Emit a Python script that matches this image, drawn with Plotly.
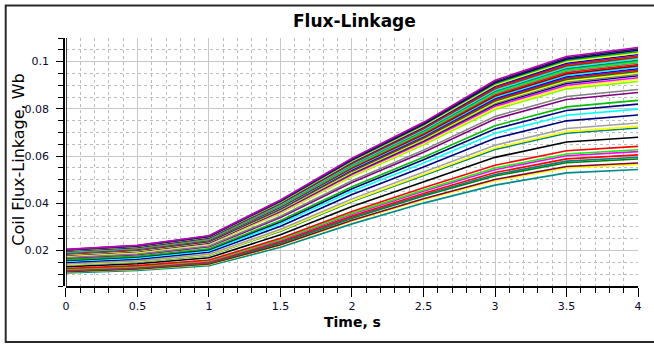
import plotly.graph_objects as go

time_s = [0, 0.5, 1, 1.5, 2, 2.5, 3, 3.5, 4]

s01 = [0.02050, 0.02220, 0.02630, 0.04140, 0.05910, 0.07430, 0.09210, 0.10220, 0.1060]
s02 = [0.02038, 0.02208, 0.02615, 0.04117, 0.05878, 0.07390, 0.09159, 0.10163, 0.1054]
s03 = [0.02027, 0.02195, 0.02600, 0.04094, 0.05845, 0.07350, 0.09107, 0.10106, 0.1048]
s04 = [0.02015, 0.02183, 0.02586, 0.04070, 0.05813, 0.07311, 0.09056, 0.10048, 0.1042]
s05 = [0.02004, 0.02171, 0.02571, 0.04047, 0.05781, 0.07271, 0.09004, 0.09991, 0.1036]
s06 = [0.01992, 0.02158, 0.02556, 0.04024, 0.05749, 0.07231, 0.08953, 0.09934, 0.1030]
s07 = [0.01980, 0.02146, 0.02542, 0.04001, 0.05716, 0.07192, 0.08901, 0.09877, 0.1024]
s08 = [0.01969, 0.02134, 0.02527, 0.03978, 0.05684, 0.07152, 0.08850, 0.09820, 0.1018]
s09 = [0.01957, 0.02122, 0.02512, 0.03954, 0.05652, 0.07112, 0.08798, 0.09762, 0.1012]
s10 = [0.01946, 0.02109, 0.02497, 0.03931, 0.05620, 0.07072, 0.08747, 0.09705, 0.1006]
s11 = [0.01934, 0.02097, 0.02483, 0.03908, 0.05587, 0.07033, 0.08695, 0.09648, 0.1000]
s12 = [0.01922, 0.02085, 0.02468, 0.03885, 0.05555, 0.06993, 0.08644, 0.09590, 0.0994]
s13 = [0.01911, 0.02072, 0.02453, 0.03861, 0.05523, 0.06953, 0.08592, 0.09533, 0.0988]
s14 = [0.01899, 0.02060, 0.02438, 0.03838, 0.05491, 0.06914, 0.08541, 0.09476, 0.0982]
s15 = [0.01888, 0.02048, 0.02424, 0.03815, 0.05458, 0.06874, 0.08489, 0.09419, 0.0976]
s16 = [0.01876, 0.02035, 0.02409, 0.03792, 0.05426, 0.06834, 0.08438, 0.09362, 0.0970]
s17 = [0.01864, 0.02023, 0.02394, 0.03769, 0.05394, 0.06795, 0.08386, 0.09304, 0.0964]
s18 = [0.01853, 0.02011, 0.02379, 0.03745, 0.05362, 0.06755, 0.08335, 0.09247, 0.0958]
s19 = [0.01841, 0.01999, 0.02365, 0.03722, 0.05329, 0.06715, 0.08283, 0.09190, 0.0952]
s20 = [0.01830, 0.01986, 0.02350, 0.03699, 0.05297, 0.06676, 0.08232, 0.09133, 0.0946]
s21 = [0.01818, 0.01974, 0.02335, 0.03676, 0.05265, 0.06636, 0.08180, 0.09076, 0.0940]
s22 = [0.01802, 0.01958, 0.02316, 0.03645, 0.05222, 0.06583, 0.08111, 0.08999, 0.0932]
s23 = [0.01787, 0.01941, 0.02296, 0.03614, 0.05179, 0.06530, 0.08042, 0.08923, 0.0924]
s24 = [0.01772, 0.01925, 0.02276, 0.03583, 0.05136, 0.06478, 0.07973, 0.08847, 0.0916]
s25 = [0.01706, 0.01855, 0.02193, 0.03451, 0.04953, 0.06253, 0.07681, 0.08523, 0.0882]
s26 = [0.01681, 0.01828, 0.02161, 0.03401, 0.04883, 0.06167, 0.07570, 0.08399, 0.0869]
s27 = [0.01617, 0.01761, 0.02080, 0.03273, 0.04705, 0.05948, 0.07286, 0.08084, 0.0836]
s28 = [0.01586, 0.01728, 0.02040, 0.03212, 0.04620, 0.05842, 0.07149, 0.07932, 0.0820]
s29 = [0.01545, 0.01685, 0.01989, 0.03130, 0.04507, 0.05704, 0.06969, 0.07731, 0.0799]
s30 = [0.01497, 0.01634, 0.01927, 0.03034, 0.04372, 0.05538, 0.06754, 0.07493, 0.0774]
s31 = [0.01431, 0.01564, 0.01844, 0.02902, 0.04189, 0.05313, 0.06462, 0.07168, 0.0740]
s32 = [0.01404, 0.01535, 0.01810, 0.02848, 0.04114, 0.05221, 0.06342, 0.07035, 0.0726]
s33 = [0.01390, 0.01521, 0.01792, 0.02821, 0.04076, 0.05174, 0.06281, 0.06968, 0.0719]
s34 = [0.01315, 0.01441, 0.01697, 0.02670, 0.03867, 0.04916, 0.05947, 0.06597, 0.0680]
s35 = [0.01240, 0.01361, 0.01601, 0.02519, 0.03657, 0.04658, 0.05612, 0.06225, 0.0641]
s36 = [0.01213, 0.01332, 0.01566, 0.02465, 0.03582, 0.04566, 0.05492, 0.06091, 0.0627]
s37 = [0.01197, 0.01316, 0.01547, 0.02434, 0.03539, 0.04513, 0.05423, 0.06015, 0.0619]
s38 = [0.01170, 0.01287, 0.01512, 0.02380, 0.03463, 0.04420, 0.05302, 0.05881, 0.0605]
s39 = [0.01151, 0.01267, 0.01488, 0.02341, 0.03410, 0.04354, 0.05217, 0.05786, 0.0595]
s40 = [0.01137, 0.01252, 0.01470, 0.02314, 0.03372, 0.04308, 0.05156, 0.05719, 0.0588]
s41 = [0.01104, 0.01218, 0.01429, 0.02248, 0.03281, 0.04195, 0.05011, 0.05557, 0.0571]
s42 = [0.01093, 0.01205, 0.01414, 0.02225, 0.03248, 0.04156, 0.04959, 0.05500, 0.0565]
s43 = [0.01050, 0.01160, 0.01360, 0.02140, 0.03130, 0.04010, 0.04770, 0.05290, 0.0543]

series = [s01, s02, s03, s04, s05, s06, s07, s08, s09, s10, s11, s12, s13, s14, s15,
          s16, s17, s18, s19, s20, s21, s22, s23, s24, s25, s26, s27, s28, s29, s30,
          s31, s32, s33, s34, s35, s36, s37, s38, s39, s40, s41, s42, s43]

colors = ['#c000c0', '#202040', '#000080', '#00c000', '#ffff00', '#0000ff', '#ff0000',
          '#804000', '#00ffff', '#008080', '#00ff00', '#808080', '#ff0000', '#800000',
          '#00ffff', '#0000ff', '#ff0000', '#008000', '#ffff00', '#808080', '#000080',
          '#ff00ff', '#ffff00', '#80ff00', '#808080', '#800080', '#00c000', '#000080',
          '#00ffff', '#000080', '#a0a0a0', '#ffff00', '#008080', '#000000', '#ff0000',
          '#00ff00', '#ff00ff', '#ff0000', '#008080', '#008000', '#800040', '#ffff00',
          '#008b8b']

fig = go.Figure()
for ys, c in zip(reversed(series), reversed(colors)):
    fig.add_trace(go.Scatter(x=time_s, y=ys, mode='lines',
                             line=dict(color=c, width=1.6), showlegend=False,
                             hoverinfo='skip'))

W, H = 654, 344
ml, mr, mt, mb = 64, 14, 38, 58
pw = W - ml - mr
ph = H - mt - mb

def px_x(p):
    return (p - ml) / pw

def px_y(p):
    return (H - mb - p) / ph

tick_font = dict(family='DejaVu Sans', size=11, color='#0a0a28')

fig.update_layout(
    width=W, height=H,
    margin=dict(l=ml, r=mr, t=mt, b=mb, pad=0),
    paper_bgcolor='white', plot_bgcolor='white',
    showlegend=False,
    xaxis=dict(domain=[2 / pw, 1], range=[0, 4], dtick=0.5, tick0=0,
               showline=True, linecolor='#000000', linewidth=2,
               ticks='outside', ticklen=9, tickcolor='#000000', tickwidth=1,
               showgrid=True, gridcolor='#c8c8c8', gridwidth=1,
               zeroline=False, tickfont=tick_font,
               minor=dict(dtick=0.1, tick0=0, ticks='outside', ticklen=5,
                          tickcolor='#000000', showgrid=True,
                          gridcolor='#bdbdbd', griddash='dot', gridwidth=1)),
    yaxis=dict(anchor='free', position=0, range=[0.005, 0.11], dtick=0.02, tick0=0,
               showline=True, linecolor='#000000', linewidth=1.5,
               ticks='outside', ticklen=7, tickcolor='#000000', tickwidth=1,
               showgrid=True, gridcolor='#c8c8c8', gridwidth=1,
               zeroline=False, tickfont=tick_font, ticklabelstandoff=5,
               minor=dict(dtick=0.005, tick0=0, ticks='outside', ticklen=5,
                          tickcolor='#000000', showgrid=True,
                          gridcolor='#bdbdbd', griddash='dot', gridwidth=1)),
    shapes=[
        dict(type='line', xref='x', yref='paper', x0=0, x1=0, y0=0, y1=1,
             line=dict(color='#000000', width=1.5)),
        dict(type='rect', xref='paper', yref='paper',
             x0=px_x(5.5), x1=px_x(670), y0=px_y(342), y1=px_y(5.5),
             line=dict(color='#2a2a2a', width=2), fillcolor='rgba(0,0,0,0)', layer='above'),
    ],
    annotations=[
        dict(text='<b>Flux-Linkage</b>', xref='paper', yref='paper',
             x=px_x(356), y=px_y(20.5), xanchor='center', yanchor='middle',
             showarrow=False, font=dict(family='DejaVu Sans', size=17, color='#000000')),
        dict(text='<b>Time, s</b>', xref='paper', yref='paper',
             x=px_x(354), y=px_y(322), xanchor='center', yanchor='middle',
             showarrow=False, font=dict(family='DejaVu Sans', size=14, color='#000000')),
        dict(text='Coil Flux-Linkage, Wb', xref='paper', yref='paper',
             x=px_x(17.5), y=px_y(160), xanchor='center', yanchor='middle',
             textangle=-90, showarrow=False,
             font=dict(family='DejaVu Sans', size=16, color='#000000')),
    ],
)

fig.write_html('out.html')
